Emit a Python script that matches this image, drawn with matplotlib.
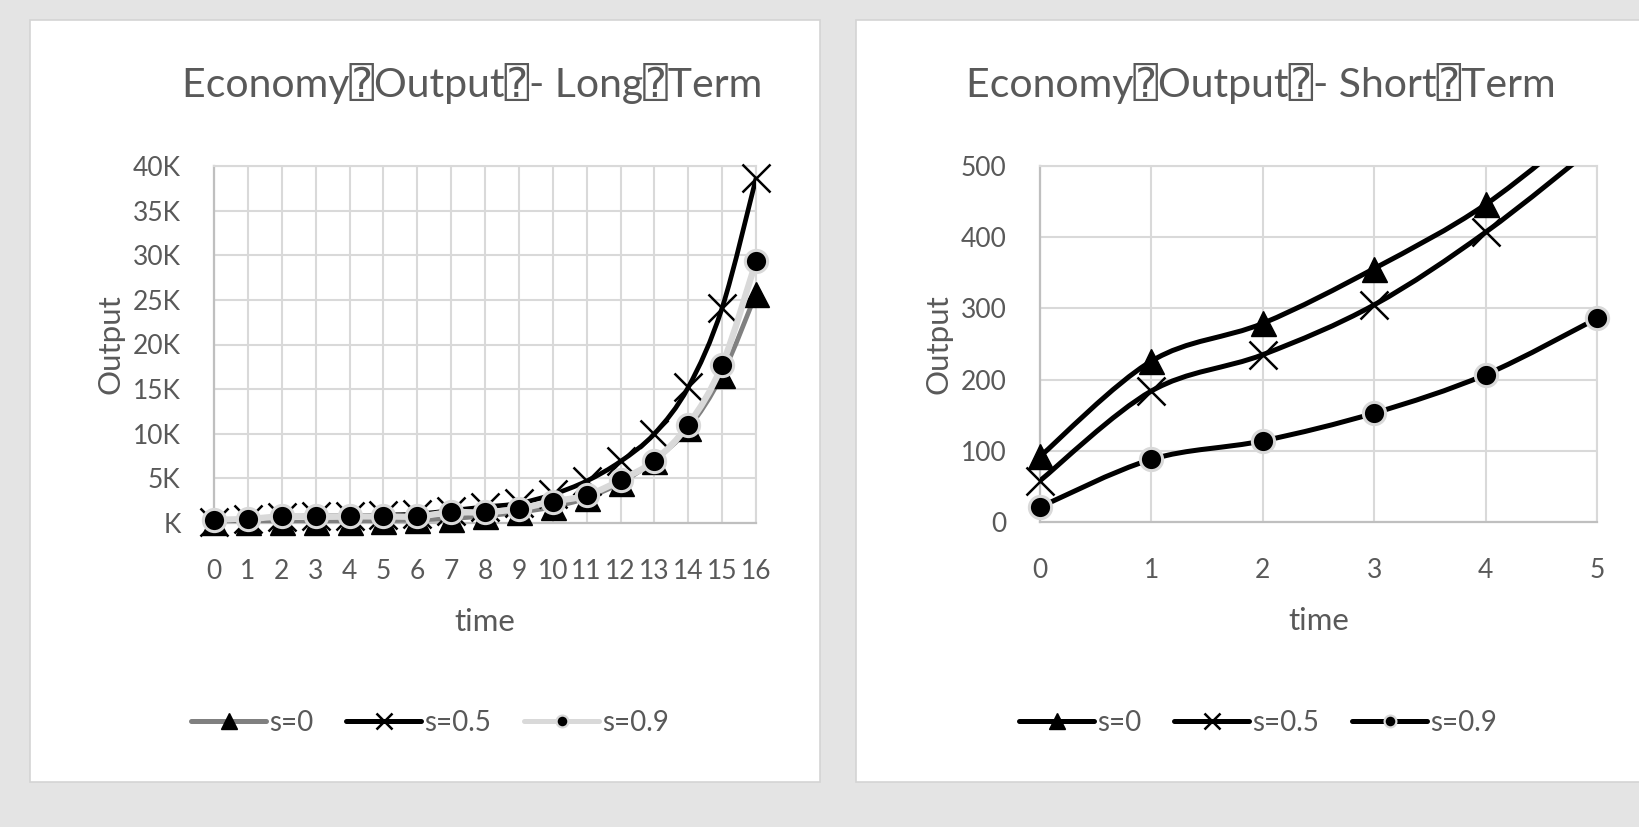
import numpy as np
import matplotlib
matplotlib.use("Agg")
import matplotlib.pyplot as plt
from matplotlib.path import Path
from matplotlib.patches import PathPatch, Rectangle
from matplotlib.lines import Line2D

plt.rcParams["font.family"] = ["Lato", "DejaVu Sans", "DejaVu Sans Mono"]

# long-term run, periods 0..16
t_long = list(range(17))
s0_long = [100, 100, 100, 100, 150, 250, 350, 500, 800, 1200, 1800, 2800, 4500, 7000, 10600, 16600, 25700]
s05_long = [60, 400, 700, 800, 800, 900, 1000, 1400, 1800, 2200, 3200, 4700, 6900, 10000, 15200, 24100, 38600]
s09_long = [370, 450, 740, 740, 740, 740, 740, 1200, 1200, 1600, 2400, 3100, 4800, 7000, 11000, 17700, 29300]
long_yticks = [0, 5000, 10000, 15000, 20000, 25000, 30000, 35000, 40000]
long_yticklabels = ["K", "5K", "10K", "15K", "20K", "25K", "30K", "35K", "40K"]

# short-term run, periods 0..5
t_short = list(range(6))
s0_short = [92, 226, 279, 356, 446, 570]
s05_short = [58, 184, 235, 305, 407, 530]
s09_short = [21, 88, 114, 153, 207, 286]
short_yticks = [0, 100, 200, 300, 400, 500]

labels = ["s=0", "s=0.5", "s=0.9"]
titles = ["Economy\u2370Output\u2370- Long\u2370Term", "Economy\u2370Output\u2370- Short\u2370Term"]

TEXT = "#595959"
GRID = "#d9d9d9"
AXIS = "#bfbfbf"
W, H = 1639, 827


def smooth_path(x, y):
    # cubic bezier through the points, tangents from neighbours (1/6 rule)
    pts = np.column_stack([x, y]).astype(float)
    n = len(pts)
    verts = [pts[0]]
    codes = [Path.MOVETO]
    for i in range(n - 1):
        p0 = pts[i - 1] if i > 0 else pts[i]
        p1 = pts[i]
        p2 = pts[i + 1]
        p3 = pts[i + 2] if i + 2 < n else pts[i + 1]
        c1 = p1 + (p2 - p0) / 6.0
        c2 = p2 - (p3 - p1) / 6.0
        verts += [c1, c2, p2]
        codes += [Path.CURVE4] * 3
    return Path(verts, codes)


def fx(px):
    return px / W


def fy(py):
    return 1 - py / H


def panel(fig, x0, y0, x1, y1):
    fig.patches.append(Rectangle((fx(x0), fy(y1)), fx(x1 - x0), (y1 - y0) / H,
                                 transform=fig.transFigure, facecolor="white",
                                 edgecolor="#d4d4d4", linewidth=1.2, zorder=-10))


def style_axes(ax, xticks, yticks, yticklabels, ylim):
    ax.set_xlim(xticks[0], xticks[-1])
    ax.set_ylim(*ylim)
    ax.set_xticks(xticks)
    ax.set_yticks(yticks)
    ax.set_yticklabels(yticklabels)
    ax.grid(True, color=GRID, linewidth=1.5)
    ax.set_axisbelow(True)
    for side in ["top", "right"]:
        ax.spines[side].set_color(GRID)
        ax.spines[side].set_linewidth(1.5)
    for side in ["left", "bottom"]:
        ax.spines[side].set_color(AXIS)
        ax.spines[side].set_linewidth(1.6)
    ax.tick_params(length=0, labelsize=19, labelcolor=TEXT)
    ax.tick_params(axis="y", pad=24)
    ax.tick_params(axis="x", pad=26)
    ax.set_xlabel("time", fontsize=22.5, color=TEXT, labelpad=17)
    ax.set_ylabel("Output", fontsize=22.5, color=TEXT, labelpad=6)


def draw_series(ax, x, y, line_color, lw, marker, k):
    ax.add_patch(PathPatch(smooth_path(x, y), fill=False, edgecolor=line_color,
                           linewidth=lw, capstyle="round", joinstyle="round", zorder=3 + k))
    # markers may spill over the plot edge, but points above the top are hidden
    top = ax.get_ylim()[1]
    ym = [v if v <= top else np.nan for v in y]
    if marker == "^":
        ax.plot(x, ym, ls="none", marker="^", ms=18, color="black", zorder=3.5 + k, clip_on=False)
    elif marker == "x":
        ax.plot(x, ym, ls="none", marker="x", ms=20, mew=1.8, color="black", zorder=3.5 + k, clip_on=False)
    else:
        ax.plot(x, ym, ls="none", marker="o", ms=16, mfc="black", mec=GRID, mew=2.2,
                zorder=3.5 + k, clip_on=False)


def legend_handles(colors, lw):
    return [
        Line2D([], [], color=colors[0], lw=lw, marker="^", ms=12, mfc="black", mec="black",
               solid_capstyle="round"),
        Line2D([], [], color=colors[1], lw=lw, marker="x", ms=12, mew=1.8, mec="black",
               solid_capstyle="round"),
        Line2D([], [], color=colors[2], lw=lw, marker="o", ms=8.5, mfc="black", mec=GRID, mew=1.6,
               solid_capstyle="round"),
    ]


fig = plt.figure(figsize=(W / 100, H / 100), dpi=100)
fig.patch.set_facecolor("#e4e4e4")

panel(fig, 30, 20, 820, 782)
panel(fig, 856, 20, 1660, 782)

# long-term panel
ax1 = fig.add_axes([fx(214), fy(523), fx(756 - 214), (523 - 166) / H])
style_axes(ax1, t_long, long_yticks, long_yticklabels, (0, 40000))
long_colors = ["#808080", "black", GRID]
draw_series(ax1, t_long, s0_long, long_colors[0], 3.4, "^", 0)
draw_series(ax1, t_long, s05_long, long_colors[1], 3.4, "x", 1)
draw_series(ax1, t_long, s09_long, long_colors[2], 4.6, "o", 2)
fig.text(fx(472), fy(84), titles[0], ha="center", va="center", fontsize=29.5, color=TEXT)
fig.legend(handles=legend_handles(long_colors, 3.6), labels=labels, loc="center",
           bbox_to_anchor=(fx(430), fy(723)), ncol=3, frameon=False, fontsize=20,
           labelcolor=TEXT, handlelength=2.7, handletextpad=0.1, columnspacing=1.2)

# short-term panel
ax2 = fig.add_axes([fx(1040), fy(522), fx(1597 - 1040), (522 - 166) / H])
style_axes(ax2, t_short, short_yticks, [str(v) for v in short_yticks], (0, 500))
short_colors = ["black", "black", "black"]
draw_series(ax2, t_short, s0_short, "black", 3.6, "^", 0)
draw_series(ax2, t_short, s05_short, "black", 3.6, "x", 1)
draw_series(ax2, t_short, s09_short, "black", 3.6, "o", 2)
fig.text(fx(1261), fy(84), titles[1], ha="center", va="center", fontsize=29.5, color=TEXT)
fig.legend(handles=legend_handles(short_colors, 3.6), labels=labels, loc="center",
           bbox_to_anchor=(fx(1258), fy(723)), ncol=3, frameon=False, fontsize=20,
           labelcolor=TEXT, handlelength=2.7, handletextpad=0.1, columnspacing=1.2)

fig.savefig("out.png", dpi=100, facecolor=fig.get_facecolor())
